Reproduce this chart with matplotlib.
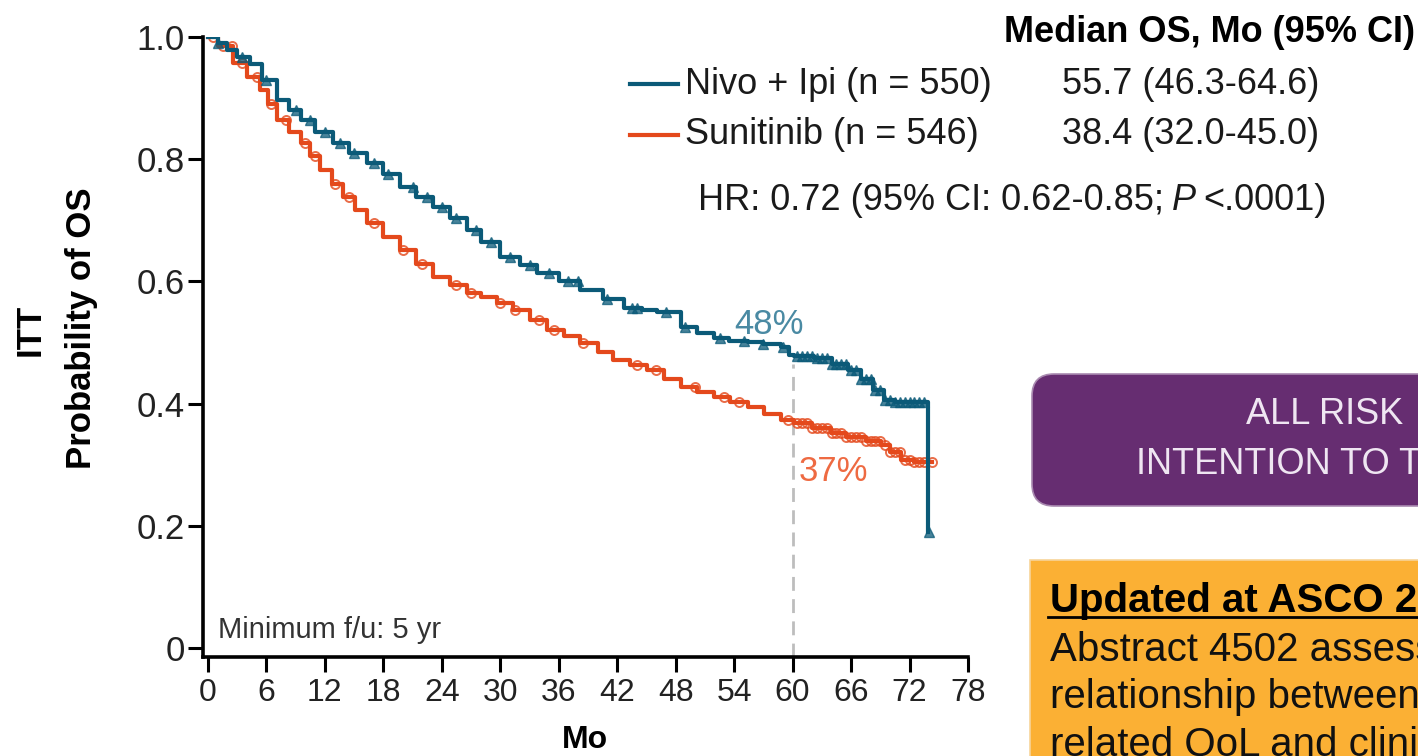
import numpy as np
import matplotlib
matplotlib.use("Agg")
import matplotlib.pyplot as plt
from matplotlib import font_manager
from matplotlib.patches import FancyBboxPatch, Rectangle

# narrow sans if available, plain Liberation otherwise
names = {f.name for f in font_manager.fontManager.ttflist}
narrow = "Liberation Sans Narrow" if "Liberation Sans Narrow" in names else "Liberation Sans"
plt.rcParams["font.family"] = [narrow, "DejaVu Sans"]

# ---- KM data (months, survival probability) ----
nivo_t = [0, 1, 2, 3, 4.3, 5.5, 7.1, 8.3, 9.5, 11, 12.8, 14.5, 16.3, 18, 19.7, 21.4,
          23.1, 24.8, 26.6, 28, 30, 32, 33.8, 36, 38.2, 40.5, 42.7, 44.5, 46.1, 48.5,
          50.2, 51.9, 53.5, 55.4, 57, 58.8, 59.6, 60.1, 62.2, 64, 65.7, 67, 68.3, 69.4,
          70.5, 72, 73.9]
nivo_s = [1.0, 0.99, 0.978, 0.967, 0.955, 0.93, 0.897, 0.88, 0.864, 0.845, 0.826, 0.81,
          0.794, 0.775, 0.755, 0.738, 0.722, 0.703, 0.684, 0.664, 0.64, 0.627, 0.614, 0.60,
          0.586, 0.571, 0.556, 0.553, 0.55, 0.525, 0.515, 0.507, 0.503, 0.50, 0.497, 0.493,
          0.48, 0.478, 0.475, 0.465, 0.455, 0.44, 0.422, 0.405, 0.403, 0.402, 0.19]
nivo_cens = [1.0, 3.5, 6.0, 9.0, 10.5, 12.0, 13.5, 15.0, 17.0, 18.5, 21.0, 22.5, 24.0,
             25.5, 27.5, 29.0, 31.0, 33.0, 35.0, 37.0, 38.0, 41.0, 43.5, 44.0, 47.0, 49.0,
             52.5, 55.0, 57.0, 59.0, 60.5, 61.0, 61.5, 62.0, 62.5, 63.0, 63.5, 64.0, 64.5,
             65.0, 65.5, 66.0, 66.5, 67.0, 67.5, 68.0, 68.5, 69.0, 69.5, 70.0, 70.5, 71.0,
             71.5, 72.0, 72.5, 73.0, 73.5, 74.0]

suni_t = [0, 1, 2.6, 4, 5.3, 6.2, 7.1, 8.3, 9.5, 10.5, 11.5, 12.7, 13.9, 15.1, 16.3, 18,
          19.7, 21.4, 23.1, 24.8, 26.6, 28, 29.7, 31.3, 33, 34.8, 36.5, 38.2, 40, 41.6,
          43.3, 45.1, 46.8, 48.5, 50.2, 51.9, 53.6, 55.4, 57.1, 58.8, 60.1, 62, 63.9, 65.5,
          67.5, 69.1, 70, 71.1, 72.5, 74.3]
suni_s = [1.0, 0.985, 0.957, 0.935, 0.913, 0.89, 0.864, 0.845, 0.826, 0.805, 0.782, 0.76,
          0.738, 0.717, 0.696, 0.672, 0.651, 0.628, 0.607, 0.594, 0.581, 0.575, 0.565,
          0.553, 0.537, 0.52, 0.51, 0.499, 0.485, 0.471, 0.463, 0.455, 0.44, 0.427, 0.419,
          0.411, 0.403, 0.394, 0.383, 0.373, 0.368, 0.36, 0.352, 0.345, 0.338, 0.332, 0.32,
          0.308, 0.305, 0.305]
suni_cens = [0.5, 1.5, 2.5, 3.5, 5.0, 6.5, 8.0, 10.0, 11.0, 13.0, 14.5, 17.0, 20.0, 22.0,
             25.5, 27.0, 30.0, 31.5, 34.0, 35.5, 38.5, 44.0, 46.0, 50.0, 53.0, 54.5, 59.5,
             60.5, 61.0, 61.5, 62.0, 62.5, 63.0, 63.5, 64.0, 64.5, 65.0, 65.5, 66.0, 66.5,
             67.0, 67.5, 68.0, 68.5, 69.0, 69.5, 70.0, 70.5, 71.0, 71.5, 72.0, 72.5, 73.0,
             73.5, 74.3]

landmark = 60
landmark_pct = [48, 37]

arms = ["Nivo + Ipi (n = 550)", "Sunitinib (n = 546)"]
medians = ["55.7 (46.3-64.6)", "38.4 (32.0-45.0)"]
xticks = list(range(0, 79, 6))
yticks = [0, 0.2, 0.4, 0.6, 0.8, 1.0]
ytick_labels = ["0", "0.2", "0.4", "0.6", "0.8", "1.0"]

BLUE = "#0B5A78"
ORANGE = "#E4491C"
PURPLE = "#662D71"
GOLD = "#FBB034"


def surv_at(t, s, x):
    t = np.asarray(t)
    s = np.asarray(s)
    idx = np.searchsorted(t, x, side="right") - 1
    return s[idx]


W, H = 1418, 756
fig = plt.figure(figsize=(W / 100, H / 100), dpi=100)

# overlay in pixel units for annotations and side boxes
ov = fig.add_axes([0, 0, 1, 1], zorder=0)
ov.set_xlim(0, W)
ov.set_ylim(H, 0)
ov.axis("off")

ax = fig.add_axes([203 / W, 1 - 657 / H, (968 - 203) / W, (657 - 37) / H], zorder=2)
ax.patch.set_alpha(0)

ax.step(nivo_t, nivo_s, where="post", color=BLUE, lw=3, zorder=4)
ax.step(suni_t, suni_s, where="post", color=ORANGE, lw=3, zorder=3)
ax.plot(nivo_cens, surv_at(nivo_t, nivo_s, nivo_cens), ls="none", marker="^", ms=6.5,
        mfc=BLUE, mec=BLUE, alpha=0.75, zorder=4)
ax.plot(suni_cens, surv_at(suni_t, suni_s, suni_cens), ls="none", marker="o", ms=6.5,
        mfc="none", mec=ORANGE, mew=1.4, alpha=0.8, zorder=3)

ax.set_xlim(-0.51, 78)
ax.set_ylim(-0.015, 1.0)

# landmark at 60 months
top = surv_at(nivo_t, nivo_s, landmark)
ax.plot([landmark, landmark], [-0.015, top - 0.015], color="#BDBDBD", lw=2,
        dashes=(5, 3), zorder=1)
ax.text(landmark - 2.4, top + 0.022, f"{landmark_pct[0]}%", color="#4A8AA3",
        fontsize=25, ha="center", va="bottom")
ax.text(landmark + 4.2, surv_at(suni_t, suni_s, landmark) - 0.057, f"{landmark_pct[1]}%",
        color="#EE6A42", fontsize=25, ha="center", va="top")

ax.set_xticks(xticks)
ax.set_xticklabels([str(x) for x in xticks], fontsize=23)
ax.set_yticks(yticks)
ax.set_yticklabels(ytick_labels, fontsize=25)
ax.tick_params(axis="both", length=11, width=2.2, direction="out", colors="black",
               labelcolor="#222222")
ax.tick_params(axis="y", pad=2)
ax.tick_params(axis="x", pad=4)
for side in ("top", "right"):
    ax.spines[side].set_visible(False)
for side in ("left", "bottom"):
    ax.spines[side].set_linewidth(2.6)

ax.text(1.0, 0.03, "Minimum f/u: 5 yr", fontsize=21, color="#333333", ha="left",
        va="center")

# axis titles
ov.text(30, 330, "ITT", rotation=90, fontsize=25, fontweight="bold", ha="center",
        va="center")
ov.text(82, 328, "Probability of OS", rotation=90, fontsize=25, fontweight="bold",
        ha="center", va="center")
ov.text(585, 755, "Mo", fontsize=23, fontweight="bold", ha="center", va="bottom")

# legend block
ov.text(1415, 33, "Median OS, Mo (95% CI)", fontsize=26, fontweight="bold", ha="right",
        va="center")
for i, (arm, med, col) in enumerate(zip(arms, medians, [BLUE, ORANGE])):
    y = 84 + i * 51
    ov.plot([630, 678], [y, y], color=col, lw=3)
    ov.text(685, y, arm, fontsize=26, ha="left", va="center", color="#1a1a1a")
    ov.text(1062, y, med, fontsize=26, ha="left", va="center", color="#1a1a1a")

hr = ov.text(698, 200, "HR: 0.72 (95% CI: 0.62-0.85;", fontsize=26, ha="left",
             va="center", color="#1a1a1a")
p = ov.annotate("P", xy=(1, 0.5), xycoords=hr, xytext=(6, 0), textcoords="offset points",
                fontsize=26, style="italic", ha="left", va="center", color="#1a1a1a")
ov.annotate("<.0001)", xy=(1, 0.5), xycoords=p, xytext=(5, 0), textcoords="offset points",
            fontsize=26, ha="left", va="center", color="#1a1a1a")

# purple banner
ov.add_patch(FancyBboxPatch((1032, 374), 450, 132, boxstyle="round,pad=0,rounding_size=22",
                            fc=PURPLE, ec="#A98AB0", lw=1.2))
ov.text(1325, 415, "ALL RISK", fontsize=26, color="#EFE6F2", ha="center", va="center")
ov.text(1325, 465, "INTENTION TO TREAT", fontsize=26, color="#EFE6F2", ha="center",
        va="center")

# note box
ov.add_patch(Rectangle((1030, 560), 420, 220, fc=GOLD, ec="#F7D49A", lw=1.2))
ov.text(1050, 612, "Updated at ASCO 2022", fontsize=29, fontweight="bold", ha="left",
        va="baseline", color="black")
ov.plot([1048, 1430], [617, 617], color="black", lw=2)
for j, line in enumerate(["Abstract 4502 assessed the", "relationship between health-",
                          "related QoL and clinical outcomes"]):
    ov.text(1050, 661 + j * 47, line, fontsize=29, ha="left", va="baseline",
            color="#111111")

fig.savefig("out.png", dpi=100)
